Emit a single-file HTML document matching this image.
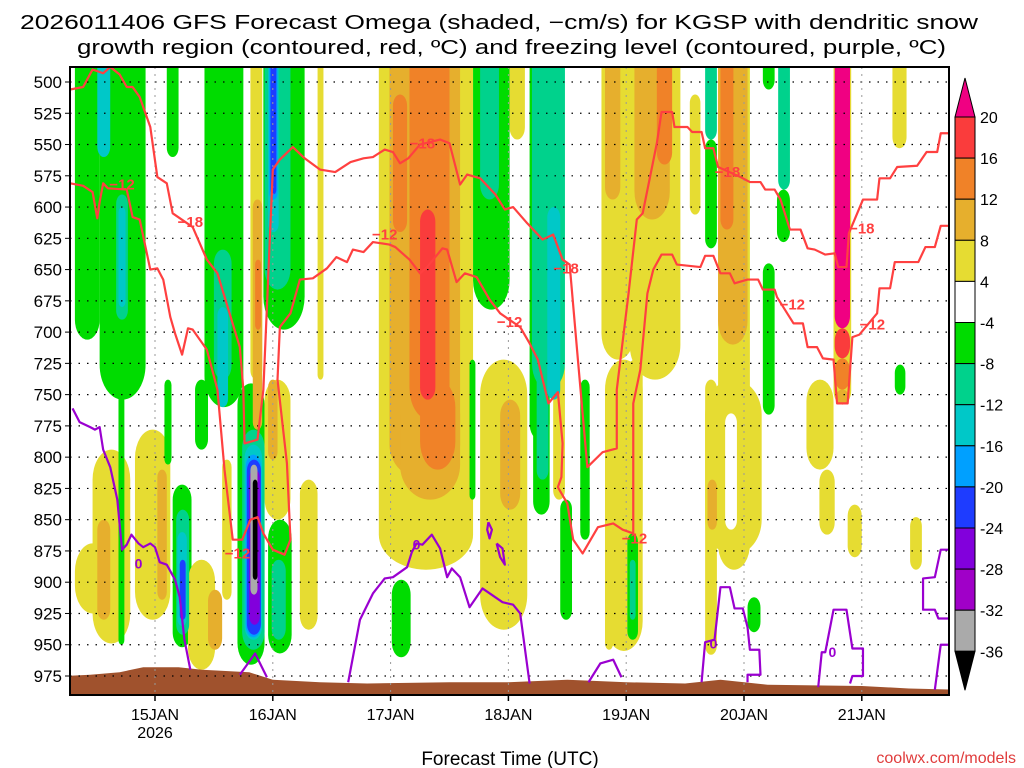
<!DOCTYPE html>
<html><head><meta charset="utf-8"><style>
html,body{margin:0;padding:0;background:#fff;}
svg{display:block;font-family:"Liberation Sans",sans-serif;}
</style></head><body>
<svg id="chart" width="1024" height="768" viewBox="0 0 1024 768" xmlns="http://www.w3.org/2000/svg">
<text x="20" y="29" font-size="20" textLength="958" lengthAdjust="spacingAndGlyphs">2026011406 GFS Forecast Omega (shaded, −cm/s) for KGSP with dendritic snow</text>
<text x="77" y="54" font-size="20" textLength="869" lengthAdjust="spacingAndGlyphs">growth region (contoured, red, ºC) and freezing level (contoured, purple, ºC)</text>
<defs><clipPath id="plotClip"><rect x="70" y="67" width="879" height="628"/></clipPath></defs>
<g id="shade" clip-path="url(#plotClip)"></g>
<g id="ground" clip-path="url(#plotClip)"></g>
<g id="grid"></g>
<g id="contours" clip-path="url(#plotClip)"></g>
<rect x="70" y="67" width="879" height="628" fill="none" stroke="#000" stroke-width="2"/>
<g id="axes"></g>
<g id="cbar"></g>
<text x="510" y="765" font-size="19" text-anchor="middle">Forecast Time (UTC)</text>
<text x="1016" y="763" font-size="16" text-anchor="end" fill="#e03c3c">coolwx.com/models</text>
</svg>
<script>
// ---- data (time in days from 15JAN 00Z, pressure in hPa) ----
const pressureTicks = [500,525,550,575,600,625,650,675,700,725,750,775,800,825,850,875,900,925,950,975];
const dayTicks = [0,1,2,3,4,5,6];
const dayLabels = ["15JAN","16JAN","17JAN","18JAN","19JAN","20JAN","21JAN"];
const levelColors = {"-9":"#000000","-8":"#aaaaaa","-7":"#a000c8","-6":"#8200dc","-5":"#1e3cff","-4":"#00a0ff","-3":"#00c8c8","-2":"#00d28c","-1":"#00dc00","0":"#ffffff","1":"#e6dc32","2":"#e6af2d","3":"#f08228","4":"#fa3c3c","5":"#f00082"};
const cbarLabels = ["20","16","12","8","4","-4","-8","-12","-16","-20","-24","-28","-32","-36"];
const cbarLevels = [4,3,2,1,0,-1,-2,-3,-4,-5,-6,-7,-8];
// shading cells: [t0, t1, pTop, pBottom, level]
const shadeCells = [
[-0.68,-0.47,488,706,-1],[-0.47,-0.08,488,754,-1],[-0.49,-0.38,488,560,-3],[-0.33,-0.23,590,690,-2],[-0.31,-0.25,600,680,-3],
[0.10,0.20,488,560,-1],[0.42,0.75,488,760,-1],[0.50,0.65,634,738,-2],[0.53,0.62,680,760,-3],
[0.81,0.91,488,738,1],[0.83,0.91,594,778,2],[0.85,0.90,642,698,3],
[0.92,1.27,488,698,-1],[0.93,1.15,488,666,-2],[0.96,1.05,488,620,-3],[0.97,1.04,488,594,-4],[0.98,1.03,488,590,-5],
[1.38,1.43,488,738,1],
[1.90,2.70,488,890,1],[1.99,2.59,488,818,2],[2.16,2.50,488,770,3],[2.25,2.38,602,754,4],[2.02,2.14,510,620,3],
[2.70,3.01,488,682,-1],[2.76,2.92,488,594,-2],
[3.18,3.35,488,786,-1],[3.20,3.48,488,746,-2],[3.33,3.44,600,754,-3],[3.01,3.14,488,546,1],
[3.79,4.07,488,722,1],[3.82,3.95,488,594,2],
[4.03,4.46,488,738,1],[4.07,4.37,488,610,2],[4.26,4.39,488,566,3],[3.82,4.14,722,955,1],
[4.54,4.63,510,606,1],[4.67,4.77,488,546,-2],[4.67,4.77,546,633,-1],
[4.78,5.05,488,890,1],[4.78,5.03,488,710,2],[4.80,4.91,488,618,3],
[4.67,4.77,738,958,1],[4.67,5.15,738,878,1],[4.69,4.77,818,858,2],
[5.16,5.26,488,506,-1],[5.16,5.26,645,766,-1],[5.29,5.39,488,586,-2],[5.28,5.39,586,628,-1],
[5.76,5.91,488,758,1],[5.77,5.90,488,697,5],[5.77,5.90,697,721,4],[5.77,5.90,721,746,3],[5.78,5.89,746,758,2],
[6.26,6.38,488,553,1],[6.28,6.37,726,750,-1],
[5.53,5.76,738,810,1],[5.64,5.77,810,862,1],[5.88,6.00,838,880,1],[6.41,6.51,848,890,1],[5.03,5.14,912,940,-1],
[-0.68,-0.38,869,925,1],[-0.53,-0.21,794,949,1],[-0.49,-0.38,850,930,2],[-0.31,-0.26,738,950,-1],
[-0.17,0.13,778,930,1],[0.02,0.10,810,914,2],[0.08,0.14,738,806,-1],
[0.15,0.31,822,952,-1],[0.18,0.29,842,942,-2],[0.19,0.27,860,935,-3],[0.21,0.26,882,930,-5],
[0.34,0.45,738,794,-1],[0.28,0.51,882,970,1],[0.45,0.57,906,954,2],[0.57,0.65,802,914,1],
[0.70,0.93,741,966,-1],[0.74,0.93,778,954,-2],[0.76,0.91,790,946,-3],[0.77,0.90,798,944,-4],[0.78,0.90,802,942,-5],[0.80,0.89,810,934,-6],[0.81,0.87,806,910,-8],[0.83,0.87,818,898,-9],
[0.96,1.16,850,957,-1],[0.99,1.11,882,946,-2],[0.93,1.15,738,850,1],[0.96,1.04,738,802,2],[1.23,1.38,818,938,1],
[2.08,2.59,738,834,2],[2.25,2.55,738,810,3],[2.01,2.17,898,960,-1],
[2.76,3.16,722,938,1],[2.93,3.10,754,842,2],[2.67,2.72,722,834,-1],
[3.21,3.35,722,846,-1],[3.24,3.34,722,818,-2],[3.38,3.48,722,834,1],[3.44,3.54,834,930,-1],[3.61,3.69,738,866,-1],
[4.01,4.14,722,856,1],[4.01,4.10,861,946,-1],[4.03,4.08,882,930,-2],[3.82,3.89,834,954,1],
[4.84,4.94,765,858,0]
];
const surfaceTimes = [-0.75,-0.55,-0.3,-0.1,0.2,0.4,0.8,1.0,1.4,1.8,2.5,3.0,3.5,4.0,4.5,4.8,5.2,6.0,6.4,6.8];
const surfacePressure = [975,974,972,968,968,970,972,978,980,981,980,980,978,980,981,978,982,983,985,986];
// contours: arrays of [day, hPa]
const contour18 = [[-0.72,506],[-0.61,504],[-0.53,490],[-0.44,493],[-0.38,488],[-0.30,494],[-0.24,504],[-0.19,504],[-0.13,512],[-0.04,536],[0.02,576],[0.10,581],[0.15,605],[0.32,616],[0.44,642],[0.53,653],[0.72,712],[0.75,746],[0.76,789],[0.87,786],[0.92,746],[1.0,570],[1.06,562],[1.17,552],[1.27,561],[1.40,570],[1.53,572],[1.66,564],[1.77,561],[1.85,560],[1.95,554],[2.02,556],[2.08,565],[2.15,561],[2.25,550],[2.42,546],[2.50,549],[2.59,582],[2.65,574],[2.76,577],[2.89,590],[2.97,602],[3.04,600],[3.16,613],[3.29,626],[3.38,622],[3.46,642],[3.52,646],[3.59,722],[3.67,808],[3.80,796],[3.92,793],[3.92,746],[4.02,669],[4.09,610],[4.14,605],[4.26,549],[4.30,524],[4.39,524],[4.41,536],[4.52,536],[4.56,540],[4.64,540],[4.67,553],[4.74,553],[4.78,568],[4.97,576],[5.05,580],[5.14,580],[5.18,586],[5.26,586],[5.31,594],[5.39,618],[5.48,618],[5.54,633],[5.60,634],[5.69,638],[5.77,637],[5.80,648],[5.87,648],[5.89,621],[6.01,594],[6.13,594],[6.15,577],[6.24,577],[6.30,568],[6.47,567],[6.55,556],[6.64,556],[6.67,541],[6.75,541]];
const contour12 = [[-0.72,581],[-0.61,583],[-0.53,588],[-0.49,609],[-0.47,596],[-0.44,581],[-0.40,585],[-0.24,586],[-0.19,608],[-0.13,610],[-0.04,650],[0.02,649],[0.07,658],[0.13,688],[0.17,701],[0.23,718],[0.28,697],[0.32,698],[0.44,714],[0.53,746],[0.59,810],[0.64,850],[0.66,866],[0.74,866],[0.81,850],[0.87,848],[0.92,861],[1.0,874],[1.10,878],[1.15,866],[1.12,805],[1.04,738],[1.06,696],[1.15,685],[1.23,658],[1.34,657],[1.46,649],[1.54,640],[1.63,644],[1.68,634],[1.77,636],[1.85,628],[1.99,630],[2.04,632],[2.16,642],[2.25,653],[2.31,648],[2.44,633],[2.48,634],[2.56,660],[2.63,653],[2.73,656],[2.84,674],[2.93,685],[3.10,696],[3.18,709],[3.25,722],[3.34,757],[3.42,748],[3.46,789],[3.45,816],[3.42,824],[3.50,837],[3.55,866],[3.63,877],[3.76,856],[3.89,853],[3.97,858],[4.06,861],[4.06,757],[4.12,730],[4.18,669],[4.23,650],[4.30,638],[4.39,638],[4.43,646],[4.63,648],[4.67,639],[4.74,639],[4.80,653],[4.88,653],[4.92,661],[5.03,658],[5.12,658],[5.16,666],[5.26,666],[5.28,672],[5.42,693],[5.50,693],[5.54,712],[5.62,712],[5.67,721],[5.76,722],[5.79,757],[5.88,757],[5.92,704],[5.98,702],[6.13,685],[6.15,665],[6.24,665],[6.28,644],[6.48,644],[6.54,632],[6.62,632],[6.67,615],[6.75,615]];
const freezing0 = [
[[-0.70,761],[-0.64,772],[-0.55,776],[-0.51,778],[-0.47,776],[-0.44,794],[-0.38,808],[-0.32,834],[-0.28,874],[-0.24,870],[-0.20,862],[-0.14,869],[-0.10,872],[-0.04,869],[0,872],[0.04,884],[0.10,886],[0.17,898],[0.21,912],[0.25,946],[0.30,970]],
[[0.72,974],[0.85,957],[0.95,976]],
[[1.64,980],[1.74,930],[1.85,909],[1.95,897],[2.02,896],[2.14,888],[2.18,876],[2.22,869],[2.27,870],[2.35,862],[2.42,873],[2.48,896],[2.52,889],[2.59,896],[2.67,920],[2.78,905],[2.95,916],[3.04,918],[3.10,925],[3.18,981]],
[[2.83,852],[2.86,858],[2.84,865],[2.82,858],[2.83,852]],
[[2.90,869],[2.95,873],[2.97,886],[2.93,880],[2.90,869]],
[[3.68,980],[3.78,965],[3.89,962],[3.96,976]],
[[4.64,980],[4.67,948],[4.75,946],[4.80,904],[4.88,904],[4.92,921],[4.99,921],[5.03,936],[5.05,954],[5.13,954],[5.14,974],[5.03,974],[5.03,980]],
[[5.63,984],[5.66,956],[5.69,956],[5.76,922],[5.87,922],[5.92,953],[6.01,953],[6.01,975],[5.92,975],[5.90,981]],
[[6.62,986],[6.67,950],[6.75,950]],
[[6.75,874],[6.67,874],[6.62,896],[6.52,897],[6.52,922],[6.62,922],[6.65,929],[6.75,929]]
];
const redLabels = [[-0.28,582,"−12"],[0.30,612,"−18"],[2.27,549,"−18"],[1.95,622,"−12"],[3.49,649,"−18"],[3.01,692,"−12"],[4.86,572,"−18"],[5.41,678,"−12"],[6.0,617,"−18"],[6.09,694,"−12"],[0.70,877,"−12"],[4.07,865,"−12"]];
const purpleLabels = [[-0.14,885],[2.22,870],[4.74,949],[5.75,956]];

// ---- axis functions ----
const X = d => 155 + d*117.8;
const Y = p => 82 + (p-500)*1.2505;
const NS = "http://www.w3.org/2000/svg";
function mk(tag, parent){ const e=document.createElementNS(NS,tag); parent.appendChild(e); return e; }

// shading
const gShade = document.getElementById('shade');
const order = shadeCells.map((c,i)=>[c,i]).sort((a,b)=>{
  const ka = a[0][4]===0?1.5:Math.abs(a[0][4]), kb = b[0][4]===0?1.5:Math.abs(b[0][4]);
  return ka-kb || a[1]-b[1];
});
order.forEach(([c])=>{
  const x0=X(c[0]), x1=X(c[1]);
  let y0=Y(c[2]);
  const y1=Y(c[3]);
  const w=x1-x0;
  let h=y1-y0;
  const ry = Math.min(h/2, w*0.8, 35);
  if (c[2] <= 488) { y0 -= ry; h += ry; }
  const r = mk('rect', gShade);
  
  
  r.setAttribute('x', x0); r.setAttribute('y', y0);
  r.setAttribute('width', w); r.setAttribute('height', h);
  r.setAttribute('rx', w/2); r.setAttribute('ry', ry);
  r.setAttribute('fill', levelColors[String(c[4])]);
});

// ground
const gGround = document.getElementById('ground');
let gd = `M${X(surfaceTimes[0])},700 `;
surfaceTimes.forEach((t,i)=>{ gd += `L${X(t)},${Y(surfacePressure[i])} `; });
gd += `L${X(surfaceTimes[surfaceTimes.length-1])},700 Z`;
const gp = mk('path', gGround);


gp.setAttribute('d', gd); gp.setAttribute('fill', '#a0522d');

// grid + axes
const gGrid = document.getElementById('grid');
const gAxes = document.getElementById('axes');
pressureTicks.forEach(p=>{
  const l = mk('line', gGrid);
  
  
  l.setAttribute('x1',70); l.setAttribute('x2',949); l.setAttribute('y1',Y(p)); l.setAttribute('y2',Y(p));
  l.setAttribute('stroke','#000'); l.setAttribute('stroke-width','1.2'); l.setAttribute('stroke-dasharray','1.5 7');
  const t = mk('text', gAxes);
  
  
  t.setAttribute('x',62); t.setAttribute('y',Y(p)+6); t.setAttribute('font-size','17'); t.setAttribute('text-anchor','end');
  t.textContent = p;
  const tk = mk('line', gAxes);
  
  
  tk.setAttribute('x1',65); tk.setAttribute('x2',70); tk.setAttribute('y1',Y(p)); tk.setAttribute('y2',Y(p)); tk.setAttribute('stroke','#000');
});
dayTicks.forEach((d,i)=>{
  const l = mk('line', gGrid);
  
  
  l.setAttribute('x1',X(d)); l.setAttribute('x2',X(d)); l.setAttribute('y1',67); l.setAttribute('y2',695);
  l.setAttribute('stroke','#999'); l.setAttribute('stroke-width','1'); l.setAttribute('stroke-dasharray','2 5');
  const tk = mk('line', gAxes);
  
  
  tk.setAttribute('x1',X(d)); tk.setAttribute('x2',X(d)); tk.setAttribute('y1',695); tk.setAttribute('y2',701); tk.setAttribute('stroke','#000'); tk.setAttribute('stroke-width','1.5');
  const t = mk('text', gAxes);
  
  
  t.setAttribute('x',X(d)); t.setAttribute('y',720); t.setAttribute('font-size','16'); t.setAttribute('text-anchor','middle');
  t.textContent = dayLabels[i];
});
const yr = mk('text', gAxes);


yr.setAttribute('x',X(0)); yr.setAttribute('y',738); yr.setAttribute('font-size','16'); yr.setAttribute('text-anchor','middle');
yr.textContent = "2026";

// contours
const gC = document.getElementById('contours');
function poly(pts, color, name){
  const p = mk('polyline', gC);
  
  
  p.setAttribute('points', pts.map(q=>X(q[0])+','+Y(q[1])).join(' '));
  p.setAttribute('fill','none'); p.setAttribute('stroke',color); p.setAttribute('stroke-width','2.2'); p.setAttribute('stroke-linejoin','round');
}
poly(contour18, '#ff4040', 'contour-minus18');
poly(contour12, '#ff4040', 'contour-minus12');
freezing0.forEach(seg=>poly(seg, '#9a00d0', 'freezing-level-contour'));
redLabels.forEach(l=>{
  const t = mk('text', gC);
  
  
  t.setAttribute('x',X(l[0])); t.setAttribute('y',Y(l[1])+5); t.setAttribute('font-size','15'); t.setAttribute('font-weight','bold');
  t.setAttribute('text-anchor','middle'); t.setAttribute('fill','#ff4040');
  t.textContent = l[2];
});
purpleLabels.forEach(l=>{
  const t = mk('text', gC);
  
  
  t.setAttribute('x',X(l[0])); t.setAttribute('y',Y(l[1])+5); t.setAttribute('font-size','14'); t.setAttribute('font-weight','bold');
  t.setAttribute('text-anchor','middle'); t.setAttribute('fill','#9a00d0');
  t.textContent = "0";
});

// colorbar
const gB = document.getElementById('cbar');
const cbTop = 117, cbStep = 41.1, cbx = 955, cbw = 20;
const tri1 = mk('polygon', gB);


tri1.setAttribute('points', `${cbx},${cbTop} ${cbx+cbw},${cbTop} ${cbx+cbw/2},${cbTop-39}`);
tri1.setAttribute('fill', levelColors["5"]); tri1.setAttribute('stroke','#000');
cbarLevels.forEach((lv,i)=>{
  const r = mk('rect', gB);
  
  
  r.setAttribute('x',cbx); r.setAttribute('y',cbTop+i*cbStep); r.setAttribute('width',cbw); r.setAttribute('height',cbStep);
  r.setAttribute('fill', levelColors[String(lv)]); r.setAttribute('stroke','#000'); r.setAttribute('stroke-width','1');
});
const yb = cbTop + cbarLevels.length*cbStep;
const tri2 = mk('polygon', gB);


tri2.setAttribute('points', `${cbx},${yb} ${cbx+cbw},${yb} ${cbx+cbw/2},${yb+39}`);
tri2.setAttribute('fill', '#000'); tri2.setAttribute('stroke','#000');
cbarLabels.forEach((s,i)=>{
  const t = mk('text', gB);
  
  
  t.setAttribute('x',980); t.setAttribute('y',cbTop+i*cbStep+6); t.setAttribute('font-size','16');
  t.textContent = s;
});
</script>
</body></html>
